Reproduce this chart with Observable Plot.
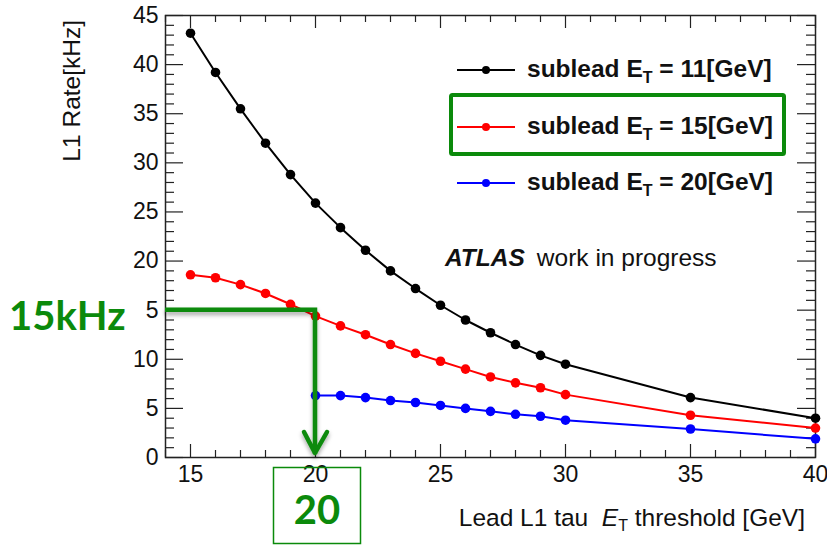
<!DOCTYPE html>
<html>
<head>
<meta charset="utf-8">
<script src="https://cdn.jsdelivr.net/npm/d3@7"></script>
<script src="https://cdn.jsdelivr.net/npm/@observablehq/plot@0.6"></script>
<style>
  html, body { margin: 0; padding: 0; background: #fff; }
  #chart { width: 827px; height: 545px; }
</style>
</head>
<body>
<div id="chart"></div>
<script>
// ---- data ----
const xBlack = [15, 16, 17, 18, 19, 20, 21, 22, 23, 24, 25, 26, 27, 28, 29, 30, 35, 40];
const yBlack = [43.2, 39.2, 35.5, 32.0, 28.8, 25.9, 23.4, 21.1, 19.0, 17.2, 15.5, 14.0, 12.7, 11.5, 10.4, 9.5, 6.1, 4.0];
const xRed = [15, 16, 17, 18, 19, 20, 21, 22, 23, 24, 25, 26, 27, 28, 29, 30, 35, 40];
const yRed = [18.6, 18.3, 17.6, 16.7, 15.6, 14.4, 13.4, 12.5, 11.5, 10.6, 9.8, 9.0, 8.2, 7.6, 7.1, 6.4, 4.3, 3.0];
const xBlue = [20, 21, 22, 23, 24, 25, 26, 27, 28, 29, 30, 35, 40];
const yBlue = [6.3, 6.3, 6.1, 5.8, 5.6, 5.3, 5.0, 4.7, 4.4, 4.2, 3.8, 2.9, 1.9];
const seriesValues = ["11", "15", "20"];
const seriesColors = ["#000000", "#ff0000", "#0000ff"];
const xTickLabels = [15, 20, 25, 30, 35, 40];
const yTickLabels = [0, 5, 10, 15, 20, 25, 30, 35, 40, 45];
const xMinorTicks = d3.range(14, 41).filter(v => v % 5 !== 0);
const yMinorTicks = d3.range(0, 46).filter(v => v % 5 !== 0);
const annotRate = 15;      // kHz
const annotThreshold = 20; // GeV

// ---- layout ----
const W = 827, H = 545;
const mL = 165, mR = 12, mT = 15, mB = 88;
const fw = W - mL - mR, fh = H - mT - mB;
const FONT = "'Liberation Sans', Arial, Helvetica, sans-serif";
const GREEN = "#0b8a0b";

const toRows = (xs, ys, s) => xs.map((x, i) => ({x, y: ys[i], s}));
const rows = [
  ...toRows(xBlack, yBlack, 0),
  ...toRows(xRed, yRed, 1),
  ...toRows(xBlue, yBlue, 2)
];

const marks = [];
const tk = {stroke: "#222", strokeWidth: 1.2};
marks.push(Plot.ruleY(yTickLabels, {y: d => d, insetRight: fw - 18, ...tk}));
marks.push(Plot.ruleY(yMinorTicks, {y: d => d, insetRight: fw - 9, ...tk}));
marks.push(Plot.ruleY(yTickLabels, {y: d => d, insetLeft: fw - 18, ...tk}));
marks.push(Plot.ruleY(yMinorTicks, {y: d => d, insetLeft: fw - 9, ...tk}));
marks.push(Plot.ruleX(xTickLabels, {x: d => d, insetTop: fh - 13, ...tk}));
marks.push(Plot.ruleX(xMinorTicks, {x: d => d, insetTop: fh - 7, ...tk}));
marks.push(Plot.ruleX(xTickLabels, {x: d => d, insetBottom: fh - 13, ...tk}));
marks.push(Plot.ruleX(xMinorTicks, {x: d => d, insetBottom: fh - 7, ...tk}));
marks.push(Plot.frame({stroke: "#222", strokeWidth: 1.5}));

[0, 1, 2].forEach(s => {
  const d = rows.filter(r => r.s === s);
  marks.push(Plot.line(d, {x: "x", y: "y", stroke: seriesColors[s], strokeWidth: 2}));
  marks.push(Plot.dot(d, {x: "x", y: "y", r: 4.8, fill: seriesColors[s], stroke: "none"}));
});

marks.push(Plot.axisX({ticks: xTickLabels, tickSize: 0, tickPadding: 8, label: null, fontSize: 23}));
marks.push(Plot.axisY({ticks: yTickLabels, tickSize: 0, tickPadding: 7, label: null, fontSize: 23}));

const svgEl = Plot.plot({
  width: W, height: H,
  marginLeft: mL, marginRight: mR, marginTop: mT, marginBottom: mB,
  x: {domain: [14, 40]},
  y: {domain: [0, 45]},
  style: {fontFamily: FONT, fontSize: "23px", color: "#111", background: "#fff"},
  marks
});
document.getElementById("chart").appendChild(svgEl);

const xs = svgEl.scale("x"), ys = svgEl.scale("y");
const X = v => xs.apply(v), Y = v => ys.apply(v);
const svg = d3.select(svgEl);

// axis titles
svg.append("text")
  .attr("transform", `translate(80,20) rotate(-90)`)
  .attr("text-anchor", "end")
  .attr("font-family", FONT).attr("font-size", 24.5).attr("fill", "#111")
  .text("L1 Rate[kHz]");

const xt = svg.append("text")
  .attr("x", 805).attr("y", 526)
  .attr("text-anchor", "end")
  .attr("font-family", FONT).attr("font-size", 24.5).attr("fill", "#111");
xt.append("tspan").text("Lead L1 tau  ");
xt.append("tspan").attr("font-style", "italic").text("E");
xt.append("tspan").attr("font-size", 16).attr("dy", 5).text("T");
xt.append("tspan").attr("dy", -5).text(" threshold [GeV]");

// legend
const legY = [70, 127, 183];
seriesColors.forEach((c, i) => {
  svg.append("line").attr("x1", 457).attr("x2", 515).attr("y1", legY[i]).attr("y2", legY[i])
    .attr("stroke", c).attr("stroke-width", 2);
  svg.append("circle").attr("cx", 486).attr("cy", legY[i]).attr("r", 4).attr("fill", c);
  const t = svg.append("text").attr("x", 527).attr("y", legY[i] + 7)
    .attr("text-anchor", "start")
    .attr("font-family", FONT).attr("font-size", 24.5).attr("font-weight", "bold").attr("fill", "#111");
  t.append("tspan").text("sublead E");
  t.append("tspan").attr("font-size", 16).attr("dy", 6).text("T");
  t.append("tspan").attr("dy", -6).text(` = ${seriesValues[i]}[GeV]`);
});
svg.append("rect").attr("x", 451).attr("y", 95).attr("width", 333).attr("height", 59)
  .attr("fill", "none").attr("stroke", GREEN).attr("stroke-width", 4).attr("rx", 1.5);

// ATLAS label
const at = svg.append("text").attr("x", 445).attr("y", 266).attr("text-anchor", "start")
  .attr("font-family", FONT).attr("font-size", 24.5).attr("fill", "#111");
at.append("tspan").attr("font-weight", "bold").attr("font-style", "italic").text("ATLAS");
at.append("tspan").attr("dx", 12).text("work in progress");

// annotation: 15 kHz -> 20 GeV
const defs = svg.append("defs");
const f = defs.append("filter").attr("id", "shadow").attr("x", "-10%").attr("y", "-50%").attr("width", "130%").attr("height", "300%");
f.append("feDropShadow").attr("dx", 0).attr("dy", 3).attr("stdDeviation", 2).attr("flood-color", "#000").attr("flood-opacity", 0.35);

const ax = X(annotThreshold), ay = Y(annotRate), ay0 = Y(0);
const g = svg.append("g").attr("filter", "url(#shadow)");
g.append("path")
  .attr("d", `M${mL},${ay}H${ax}V${ay0 - 3}`)
  .attr("fill", "none").attr("stroke", GREEN).attr("stroke-width", 4.5).attr("stroke-linejoin", "miter");
g.append("path")
  .attr("d", `M${ax - 11},${ay0 - 25}L${ax},${ay0 - 4}L${ax + 12},${ay0 - 25}`)
  .attr("fill", "none").attr("stroke", GREEN).attr("stroke-width", 4.5).attr("stroke-linecap", "round").attr("stroke-linejoin", "round");

svg.append("rect").attr("x", 0).attr("y", ay - 16).attr("width", 146).attr("height", 32).attr("fill", "#fff");
svg.append("text").attr("x", 9).attr("y", ay + 20).attr("text-anchor", "start")
  .attr("font-family", "Lato, 'Open Sans', sans-serif").attr("font-weight", "bold").attr("font-size", 40)
  .attr("fill", GREEN).text(`${annotRate}kHz`);

// "20" box
svg.append("rect").attr("x", 273.5).attr("y", 467.5).attr("width", 87).attr("height", 76)
  .attr("fill", "none").attr("stroke", GREEN).attr("stroke-width", 1.5);
svg.append("text").attr("x", (273.5 + 360.5) / 2).attr("y", 524).attr("text-anchor", "middle")
  .attr("font-family", "Lato, 'Open Sans', sans-serif").attr("font-weight", "bold").attr("font-size", 40)
  .attr("fill", GREEN).text(`${annotThreshold}`);
</script>
</body>
</html>
